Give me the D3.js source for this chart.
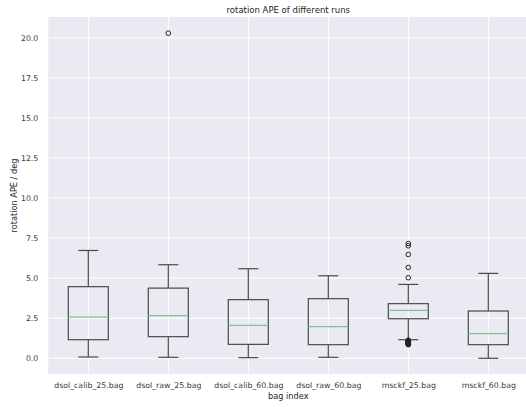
<!DOCTYPE html>
<html>
<head>
<meta charset="utf-8">
<script src="https://cdn.jsdelivr.net/npm/d3@7"></script>
<style>
  html, body { margin: 0; padding: 0; background: #fff; }
  svg { display: block; }
  text { font-family: "DejaVu Sans", sans-serif; }
</style>
</head>
<body>
<svg id="chart" width="526" height="407"></svg>
<script>
// Runs (one box each)
const categories = ["dsol_calib_25.bag", "dsol_raw_25.bag", "dsol_calib_60.bag",
                    "dsol_raw_60.bag", "msckf_25.bag", "msckf_60.bag"];
// Box statistics per run, in degrees
const whiskerLow = [0.08, 0.06, 0.04, 0.06, 1.16, 0.00];
const q1         = [1.16, 1.35, 0.87, 0.85, 2.47, 0.85];
const median     = [2.57, 2.66, 2.06, 1.98, 2.99, 1.54];
const q3         = [4.47, 4.38, 3.66, 3.72, 3.41, 2.95];
const whiskerHigh= [6.73, 5.84, 5.59, 5.15, 4.61, 5.30];
// Flier values per run
const fliers = [
  [],
  [20.29],
  [],
  [],
  [5.03, 5.67, 6.48, 7.02, 7.16,
   0.85, 0.87, 0.89, 0.91, 0.93, 0.95, 0.97, 0.99, 1.01, 1.03, 1.05, 1.07, 1.09, 1.11, 1.13],
  []
];
const yTicks = [0, 2.5, 5, 7.5, 10, 12.5, 15, 17.5, 20];

const svg = d3.select("#chart");
const plotLeft = 48.3, plotRight = 528.3, plotTop = 17, plotBottom = 374;

const x = d3.scaleLinear().domain([0.5, categories.length + 0.5]).range([plotLeft, plotRight]);
const y = d3.scaleLinear().domain([-0.98, 21.3]).range([plotBottom, plotTop]);

// Plot background
svg.append("rect").attr("x", plotLeft).attr("y", plotTop)
  .attr("width", plotRight - plotLeft).attr("height", plotBottom - plotTop).attr("fill", "#eaeaf2");

// Grid
const g = svg.append("g");
g.selectAll("line.hg").data(yTicks).join("line")
  .attr("x1", plotLeft).attr("x2", plotRight)
  .attr("y1", d => y(d)).attr("y2", d => y(d))
  .attr("stroke", "#fff").attr("stroke-width", 1);
g.selectAll("line.vg").data(categories).join("line")
  .attr("x1", (d, i) => x(i + 1)).attr("x2", (d, i) => x(i + 1))
  .attr("y1", plotTop).attr("y2", plotBottom)
  .attr("stroke", "#fff").attr("stroke-width", 1);

// Y axis tick labels
const yAxis = d3.axisLeft(y).tickValues(yTicks).tickFormat(d3.format(".1f")).tickSize(0).tickPadding(10);
svg.append("g").attr("transform", `translate(${plotLeft},0)`).call(yAxis)
  .call(s => s.select(".domain").remove())
  .selectAll("text").attr("font-size", 7.8).attr("fill", "#3b3b3b")
  .style("font-family", "DejaVu Sans, sans-serif");

// X axis tick labels
const xAxis = d3.axisBottom(x).tickValues(categories.map((d, i) => i + 1))
  .tickFormat((d) => categories[d - 1]).tickSize(0).tickPadding(8);
svg.append("g").attr("transform", `translate(0,${plotBottom})`).call(xAxis)
  .call(s => s.select(".domain").remove())
  .selectAll("text").attr("font-size", 7.8).attr("fill", "#3b3b3b")
  .style("font-family", "DejaVu Sans, sans-serif");

// Boxes
const boxW = x(1.25) - x(0.75);
const capW = boxW / 2;
const boxColor = "#4a4a4a";
const boxes = svg.append("g");
categories.forEach((c, i) => {
  const cx = x(i + 1);
  const b = boxes.append("g");
  // whiskers
  b.append("line").attr("x1", cx).attr("x2", cx).attr("y1", y(q3[i])).attr("y2", y(whiskerHigh[i]))
    .attr("stroke", boxColor).attr("stroke-width", 1.2);
  b.append("line").attr("x1", cx).attr("x2", cx).attr("y1", y(q1[i])).attr("y2", y(whiskerLow[i]))
    .attr("stroke", boxColor).attr("stroke-width", 1.2);
  // caps
  [whiskerHigh[i], whiskerLow[i]].forEach(v => {
    b.append("line").attr("x1", cx - capW / 2).attr("x2", cx + capW / 2)
      .attr("y1", y(v)).attr("y2", y(v))
      .attr("stroke", boxColor).attr("stroke-width", 1.2);
  });
  // box
  b.append("rect").attr("x", cx - boxW / 2).attr("y", y(q3[i]))
    .attr("width", boxW).attr("height", y(q1[i]) - y(q3[i]))
    .attr("fill", "none").attr("stroke", boxColor).attr("stroke-width", 1.2);
  // median
  b.append("line").attr("x1", cx - boxW / 2).attr("x2", cx + boxW / 2)
    .attr("y1", y(median[i])).attr("y2", y(median[i]))
    .attr("stroke", "#7cc393").attr("stroke-width", 1.2);
  // fliers
  b.selectAll("circle").data(fliers[i]).join("circle")
    .attr("cx", cx).attr("cy", d => y(d)).attr("r", 2.3)
    .attr("fill", "none").attr("stroke", "#222").attr("stroke-width", 1);
});

// Title and axis labels
svg.append("text").attr("x", (plotLeft + plotRight) / 2).attr("y", 12.5).attr("text-anchor", "middle")
  .attr("font-size", 8.5).attr("fill", "#262626").text("rotation APE of different runs");
svg.append("text").attr("x", (plotLeft + plotRight) / 2).attr("y", 398.5).attr("text-anchor", "middle")
  .attr("font-size", 8.2).attr("fill", "#262626").text("bag index");
svg.append("text").attr("transform", `translate(17,${(plotTop + plotBottom) / 2}) rotate(-90)`)
  .attr("text-anchor", "middle")
  .attr("font-size", 8.2).attr("fill", "#262626").text("rotation APE / deg");
</script>
</body>
</html>
